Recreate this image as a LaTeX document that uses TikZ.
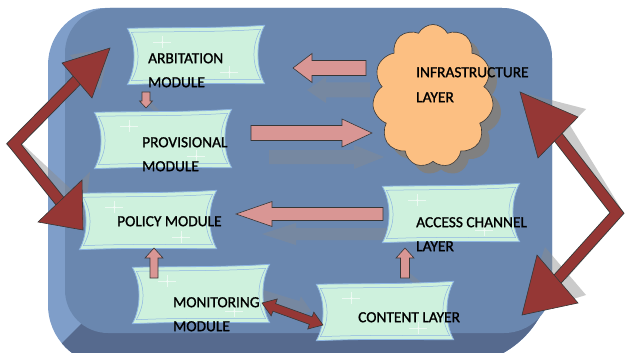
\documentclass[tikz,border=0pt]{standalone}
\usepackage{fontspec}
\setmainfont{Carlito}[FakeBold=1.2]
\usetikzlibrary{calc,shapes.symbols}

\definecolor{panelface}{RGB}{106,135,175}
\definecolor{panellight}{RGB}{127,158,201}
\definecolor{paneldark}{RGB}{86,106,142}
\definecolor{boxfill}{RGB}{206,241,221}
\definecolor{boxline}{RGB}{141,180,226}
\definecolor{pinkarrow}{RGB}{217,150,148}
\definecolor{redarrow}{RGB}{149,55,53}
\definecolor{cloudfill}{RGB}{252,191,130}
\definecolor{edge}{RGB}{55,55,55}

\tikzset{
  module/.style={rectangle, minimum width=137pt, minimum height=59pt, inner sep=0pt},
  txt/.style={font=\fontsize{15.4}{24}\selectfont, text=black, inner sep=0pt,
    align=left, anchor=north west},
  pinkblock/.style={fill=pinkarrow, draw=edge, line width=0.6pt, line join=miter},
  redblock/.style={fill=redarrow, draw=edge, line width=0.6pt, line join=miter},
  softshadow/.style={fill=black!45, opacity=0.38},
  bigshaftout/.style={draw=edge, line width=11.5pt, line join=miter},
  bigshaft/.style={draw=redarrow, line width=9.8pt, line join=miter},
  sparkle/.style={draw=white, line width=0.4pt, opacity=0.6},
}

% concave-sided scroll outline around a module node; #3 insets it
\newcommand\modpath[3]{%
  \path[#1] ($(#2.north west)+(#3,#3+3)$)
    .. controls +(9,16) and +(9,-16) .. ($(#2.south west)+(#3,-#3)$)
    .. controls +(45,-2) and +(-45,0) .. ($(#2.south east)+(-#3,-#3-1)$)
    .. controls +(-9,-16) and +(-9,16) .. ($(#2.north east)+(-#3,#3)$)
    .. controls +(-45,3) and +(45,-1) .. ($(#2.north west)+(#3,#3+3)$) -- cycle;}

\newcommand\twinkle[1]{%
  \path[sparkle, shift={(#1)}] (-9,0) -- (9,0) (0,-6) -- (0,6);
  \fill[white, opacity=0.35, shift={(#1)}] (0,0) circle[radius=1.5];}

\newcommand\modbox[1]{%
  \modpath{fill=boxfill, draw=boxline, line width=0.8pt}{#1}{0}%
  \modpath{draw=boxline, line width=0.5pt}{#1}{4}%
  \twinkle{$(#1.north west)+(35,17)$}%
  \twinkle{$(#1.north west)+(102,47)$}}

% block arrow from #2 to #3: half shaft #4, half head #5, head length #6
\newcommand\blockarrow[6][]{%
  \path (#2) coordinate (bas) (#3) coordinate (bae);
  \pgfpointdiff{\pgfpointanchor{bas}{center}}{\pgfpointanchor{bae}{center}}%
  \pgfgetlastxy\bax\bay
  \pgfmathsetmacro\baang{atan2(\bay,\bax)}%
  \pgfmathsetmacro\balen{veclen(\bax,\bay)}%
  \pgfmathsetmacro\babase{\balen-#6}%
  \path[#1, shift={(bas)}, rotate=\baang]
    (0,-#4) -- (\babase,-#4) -- (\babase,-#5) -- (\balen,0)
    -- (\babase,#5) -- (\babase,#4) -- (0,#4) -- cycle;}

% block arrow with heads at both ends
\newcommand\dblarrow[6][]{%
  \path (#2) coordinate (bas) (#3) coordinate (bae);
  \pgfpointdiff{\pgfpointanchor{bas}{center}}{\pgfpointanchor{bae}{center}}%
  \pgfgetlastxy\bax\bay
  \pgfmathsetmacro\baang{atan2(\bay,\bax)}%
  \pgfmathsetmacro\balen{veclen(\bax,\bay)}%
  \pgfmathsetmacro\babase{\balen-#6}%
  \path[#1, shift={(bas)}, rotate=\baang]
    (0,0) -- (#6,-#5) -- (#6,-#4) -- (\babase,-#4) -- (\babase,-#5) -- (\balen,0)
    -- (\babase,#5) -- (\babase,#4) -- (#6,#4) -- (#6,#5) -- cycle;}

\begin{document}
\begin{tikzpicture}[x=1pt, y=-1pt]
\useasboundingbox (0,0) rectangle (627,353);
\clip (0,0) rectangle (627,353);

% module placeholders
\node[module] (arb)  at (196,55)  {};
\node[module] (prov) at (163,139) {};
\node[module] (pol)  at (148,220) {};
\node[module] (mon)  at (201,294) {};
\node[module] (acc)  at (451,213) {};
\node[module] (con)  at (385,311) {};

% arrow end points
\coordinate (p1s) at (366,68);  \coordinate (p1e) at (293,68);
\coordinate (p2s) at (251,133); \coordinate (p2e) at (372,133);
\coordinate (p3s) at (383,214); \coordinate (p3e) at (236,214);
\coordinate (p4s) at (146,92);  \coordinate (p4e) at (146,108);
\coordinate (p5s) at (154,278); \coordinate (p5e) at (154,248);
\coordinate (p6s) at (405,278); \coordinate (p6e) at (405,248);
\coordinate (d1) at (262,303);  \coordinate (d2) at (323,325);

% bent double arrows
\coordinate (lA) at (110,48);  \coordinate (lV) at (14,144);  \coordinate (lB) at (83,230);
\coordinate (rA) at (520,92);  \coordinate (rV) at (617,213); \coordinate (rB) at (522,315);

% raised panel
\fill[panellight] (48,65) arc[start angle=180, end angle=270, radius=57]
  -- (502,8) arc[start angle=270, end angle=360, radius=50]
  -- (552,270) arc[start angle=0, end angle=90, radius=95]
  -- (108,365) arc[start angle=90, end angle=180, radius=60] -- cycle;
\begin{scope}
  \clip (48,65) arc[start angle=180, end angle=270, radius=57]
    -- (502,8) arc[start angle=270, end angle=360, radius=50]
    -- (552,270) arc[start angle=0, end angle=90, radius=95]
    -- (108,365) arc[start angle=90, end angle=180, radius=60] -- cycle;
  \fill[paneldark] (20,385) -- (92,313) -- (600,313) -- (600,385) -- cycle;
\end{scope}
\fill[panelface] (65,53) arc[start angle=180, end angle=270, radius=45]
  -- (502,8) arc[start angle=270, end angle=360, radius=50]
  -- (552,285) arc[start angle=0, end angle=90, radius=48]
  -- (108,333) arc[start angle=90, end angle=180, radius=43] -- cycle;

% shadows
\blockarrow[softshadow]{$(p1s)+(4,22)$}{$(p1e)+(14,22)$}{7.5}{13}{19}
\blockarrow[softshadow]{$(p2s)+(18,24)$}{$(p2e)+(12,24)$}{7}{12}{30}
\blockarrow[softshadow]{$(p3s)+(14,20)$}{$(p3e)+(26,20)$}{6}{11}{34}
\dblarrow[softshadow]{$(d1)+(-16,-12)$}{$(d2)+(-12,-14)$}{6}{11}{14}
\draw[black!45, opacity=0.38, line width=4pt] (146,100) -- (168,122);
\draw[black!45, opacity=0.38, line width=5pt] (152,273) -- (188,296);
\draw[black!45, opacity=0.38, line width=5pt] (403,271) -- (438,299);
\begin{scope}[shift={(8,-8)}, opacity=0.45]
  \draw[draw=black!45, line width=11.5pt, line join=miter] (80,77) -- (lV) -- (63,205);
  \fill[black!45] (lA) -- (62,63) -- (92,98) -- cycle;
  \fill[black!45] (lB) -- (38,222) -- (82,180) -- cycle;
  \draw[draw=black!45, line width=11.5pt, line join=miter] (555,133) -- (rV) -- (554,283);
  \fill[black!45] (rA) -- (538,158) -- (578,117) -- cycle;
  \fill[black!45] (rB) -- (537,255) -- (578,303) -- cycle;
\end{scope}

% module shapes
\modbox{arb}
\modbox{prov}
\modbox{pol}
\modbox{mon}
\modbox{acc}
\modbox{con}

% cloud
\node[cloud, cloud puffs=11, cloud puff arc=125, aspect=0.85, minimum width=121pt,
  minimum height=143pt, inner sep=0pt, fill=black!50] (infrashade) at (441,104) {};
\node[cloud, cloud puffs=11, cloud puff arc=125, aspect=0.85, minimum width=121pt,
  minimum height=143pt, inner sep=0pt, fill=cloudfill, draw=edge, line width=0.6pt]
  (infra) at (433,96) {};

% pink block arrows
\blockarrow[pinkblock]{p1s}{p1e}{7.5}{14.5}{19}
\blockarrow[pinkblock]{p2s}{p2e}{7.5}{14}{30}
\blockarrow[pinkblock]{p3s}{p3e}{6.5}{12.5}{36}
\blockarrow[pinkblock]{p4s}{p4e}{4}{6.5}{7}
\blockarrow[pinkblock]{p5s}{p5e}{4}{9}{10}
\blockarrow[pinkblock]{p6s}{p6e}{4.5}{9}{10}
\dblarrow[redblock]{d1}{d2}{4}{9}{13}

% big bent double arrows
\draw[bigshaftout] (80,77) -- (lV) -- (63,205);
\draw[bigshaft] (80,77) -- (lV) -- (63,205);
\filldraw[redblock] (lA) -- (62,63) -- (92,98) -- cycle;
\filldraw[redblock] (lB) -- (38,222) -- (82,180) -- cycle;
\draw[bigshaftout] (555,133) -- (rV) -- (554,283);
\draw[bigshaft] (555,133) -- (rV) -- (554,283);
\filldraw[redblock] (rA) -- (538,158) -- (578,117) -- cycle;
\filldraw[redblock] (rB) -- (537,255) -- (578,303) -- cycle;

% labels
\node[txt] (arbT)   at (148,53)  {ARBITATION\\MODULE};
\node[txt] (provT)  at (142,137) {PROVISIONAL\\MODULE};
\node[txt] (polT)   at (117,216) {POLICY MODULE};
\node[txt] (monT)   at (173,297) {MONITORING\\MODULE};
\node[txt] (accT)   at (416,217) {ACCESS CHANNEL\\LAYER};
\node[txt] (conT)   at (358,312) {CONTENT LAYER};
\node[txt, font=\fontsize{15.4}{25}\selectfont] (infraT) at (416,67) {INFRASTRUCTURE\\LAYER};
\end{tikzpicture}
\end{document}
